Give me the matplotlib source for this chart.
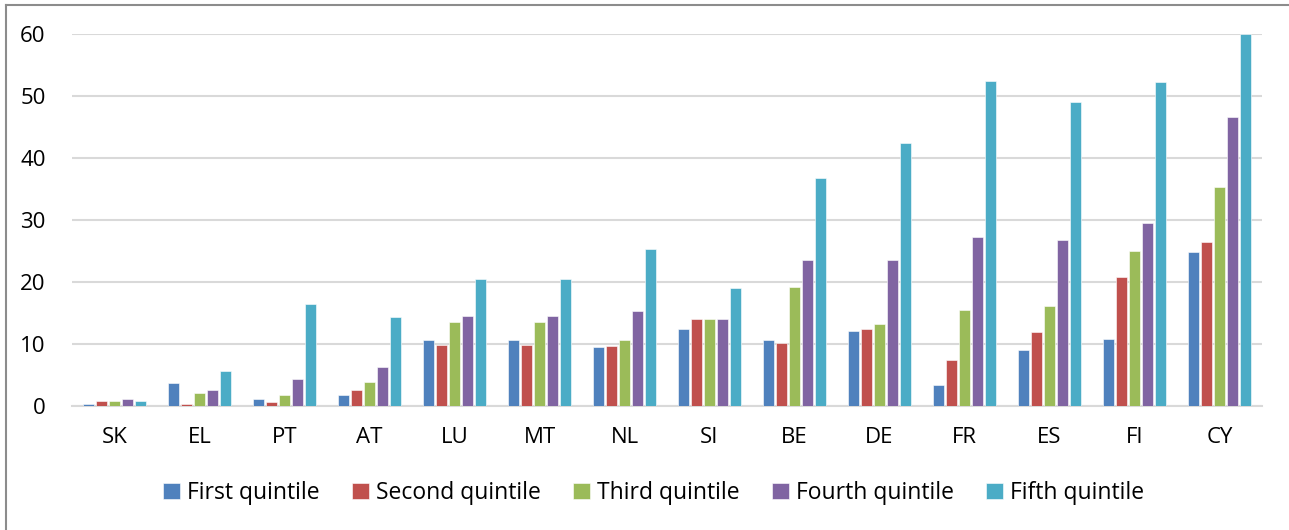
import numpy as np
import matplotlib.pyplot as plt
from matplotlib.lines import Line2D

plt.rcParams['font.family'] = ['Open Sans', 'DejaVu Sans']

countries = ["SK", "EL", "PT", "AT", "LU", "MT", "NL", "SI", "BE", "DE", "FR", "ES", "FI", "CY"]
series_names = ["First quintile", "Second quintile", "Third quintile", "Fourth quintile", "Fifth quintile"]

first = [0.3, 3.7, 1.1, 1.9, 10.7, 10.7, 9.5, 12.5, 10.7, 12.1, 3.4, 9.1, 10.8, 24.8]
second = [0.8, 0.4, 0.7, 2.6, 9.8, 9.8, 9.7, 14.0, 10.2, 12.4, 7.4, 12.0, 20.8, 26.4]
third = [0.8, 2.2, 1.8, 3.9, 13.6, 13.6, 10.7, 14.0, 19.2, 13.3, 15.5, 16.2, 25.1, 35.3]
fourth = [1.1, 2.7, 4.4, 6.3, 14.5, 14.5, 15.3, 14.0, 23.6, 23.5, 27.3, 26.8, 29.6, 46.6]
fifth = [0.8, 5.7, 16.5, 14.4, 20.5, 20.5, 25.3, 19.0, 36.8, 42.5, 52.5, 49.1, 52.3, 60.0]

colors = ["#4F81BD", "#C0504D", "#9BBB59", "#8064A2", "#4BACC6"]

fig = plt.figure(figsize=(12.89, 5.30), dpi=100)
ax = fig.add_axes([72 / 1289, 1 - 406.3 / 530, (1262 - 72) / 1289, (406.3 - 34) / 530])

x = np.arange(len(countries))
step = 0.153
for i, (vals, name, c) in enumerate(zip([first, second, third, fourth, fifth], series_names, colors)):
    ax.bar(x + (i - 2) * step, vals, width=step * 0.86, color=c, edgecolor="white",
           linewidth=0.4, label=name, zorder=3)

ax.set_xlim(-0.5, len(countries) - 0.5)
ax.set_ylim(0, 60)
ax.set_yticks(range(0, 61, 10))
ax.set_xticks(x)
ax.set_xticklabels(countries)
ax.yaxis.grid(True, color="#D9D9D9", linewidth=1.5, zorder=0)
ax.set_axisbelow(True)
for s in ["top", "right", "left"]:
    ax.spines[s].set_visible(False)
ax.spines["bottom"].set_color("#D9D9D9")
ax.spines["bottom"].set_linewidth(1.5)
ax.tick_params(axis="both", length=0, labelsize=16, colors="black")
ax.tick_params(axis="y", pad=19)
ax.tick_params(axis="x", pad=15)

# legend along the bottom
fig.legend(loc="center", bbox_to_anchor=(0.507, 1 - 493 / 530), ncol=5, frameon=False,
           fontsize=16.5, handlelength=0.75, handleheight=0.75, handletextpad=0.3,
           columnspacing=1.4)

# outer chart border (top and left edges)
fig.add_artist(Line2D([6 / 1289, 6 / 1289], [0, 1 - 4.5 / 530], transform=fig.transFigure,
                      color="#8C8C8C", linewidth=1.5))
fig.add_artist(Line2D([6 / 1289, 1], [1 - 4.5 / 530, 1 - 4.5 / 530], transform=fig.transFigure,
                      color="#8C8C8C", linewidth=1.5))

fig.savefig("out.png", dpi=100)
